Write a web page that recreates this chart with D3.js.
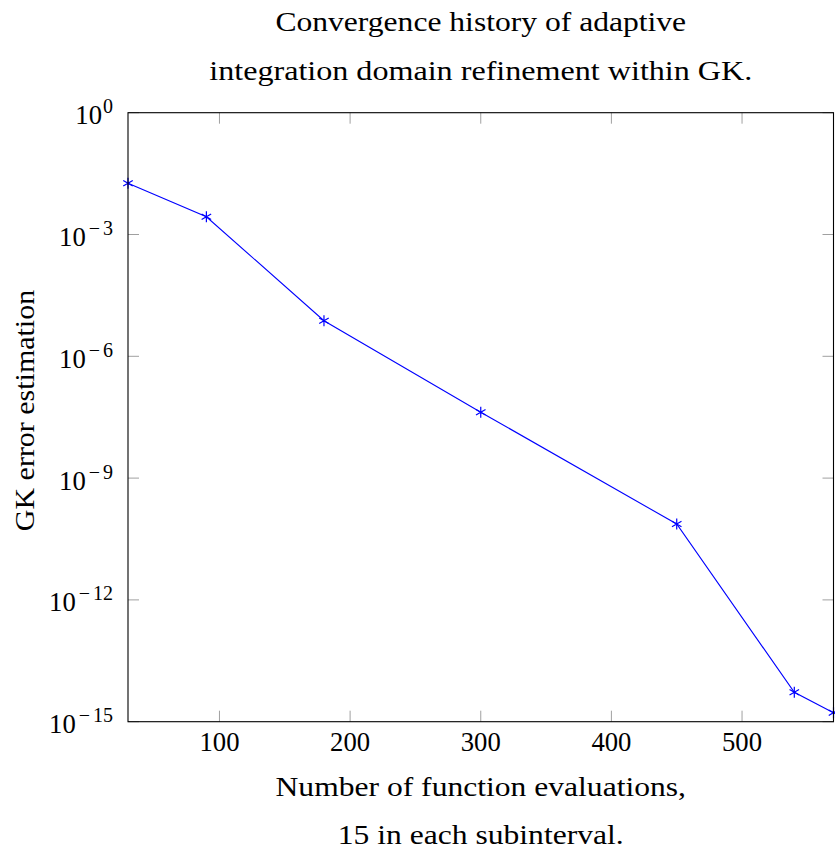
<!DOCTYPE html>
<html>
<head>
<meta charset="utf-8">
<script src="https://cdn.jsdelivr.net/npm/d3@7/dist/d3.min.js"></script>
<style>
  html, body { margin: 0; padding: 0; background: #fff; }
  svg text { font-family: "Liberation Serif", "DejaVu Serif", serif; fill: #000; }
</style>
</head>
<body>
<svg id="chart" width="835" height="854"></svg>
<script>
// Function evaluations (15 per subinterval) and the GK error estimate after each refinement
const evaluations = [30, 90, 180, 300, 450, 540, 570];
const errorEstimate = [1.82e-2, 2.74e-3, 7.5e-6, 4.2e-8, 7.4e-11, 5.3e-15, 1.67e-15];

const xTicks = [100, 200, 300, 400, 500];
const yTickExponents = [0, -3, -6, -9, -12, -15];

const titleLines = ["Convergence history of adaptive", "integration domain refinement within GK."];
const xLabelLines = ["Number of function evaluations,", "15 in each subinterval."];
const yLabel = "GK error estimation";

const svg = d3.select("#chart");
const plotLeft = 128, plotRight = 833.5, plotTop = 112.7, plotBottom = 721.7;
const fontSize = 27;
// Serif text set a little wider than the installed face, like Computer Modern
const widen = 1.17;

const x = d3.scaleLinear().domain([30, 570]).range([plotLeft, plotRight]);
const y = d3.scaleLog().domain([1e-15, 1]).range([plotBottom, plotTop]);

const tickLen = 11;
const tickColor = "#a0a0a0";

// Inner ticks on all four sides
const g = svg.append("g");
xTicks.forEach(t => {
  g.append("line").attr("x1", x(t)).attr("x2", x(t))
    .attr("y1", plotBottom).attr("y2", plotBottom - tickLen)
    .attr("stroke", tickColor).attr("stroke-width", 1);
  g.append("line").attr("x1", x(t)).attr("x2", x(t))
    .attr("y1", plotTop).attr("y2", plotTop + tickLen)
    .attr("stroke", tickColor).attr("stroke-width", 1);
});
yTickExponents.forEach(e => {
  const yy = y(Math.pow(10, e));
  g.append("line").attr("x1", plotLeft).attr("x2", plotLeft + tickLen)
    .attr("y1", yy).attr("y2", yy)
    .attr("stroke", tickColor).attr("stroke-width", 1);
  g.append("line").attr("x1", plotRight).attr("x2", plotRight - tickLen)
    .attr("y1", yy).attr("y2", yy)
    .attr("stroke", tickColor).attr("stroke-width", 1);
});

// Data line and star markers
const line = d3.line().x((d, i) => x(evaluations[i])).y(d => y(d));
svg.append("path").datum(errorEstimate)
  .attr("d", line).attr("fill", "none")
  .attr("stroke", "#0000ff").attr("stroke-width", 1.1);

const star = (cx, cy, r) => {
  let p = "";
  for (let k = 0; k < 3; k++) {
    const a = Math.PI / 2 + k * Math.PI / 3;
    const dx = r * Math.cos(a), dy = r * Math.sin(a);
    p += `M${cx - dx},${cy - dy}L${cx + dx},${cy + dy}`;
  }
  return p;
};
svg.append("g").selectAll("path").data(errorEstimate).join("path")
  .attr("d", (d, i) => star(x(evaluations[i]), y(d), 5.5))
  .attr("stroke", "#0000ff").attr("stroke-width", 1.2).attr("fill", "none");

// Frame
svg.append("rect").attr("x", plotLeft).attr("y", plotTop)
  .attr("width", plotRight - plotLeft).attr("height", plotBottom - plotTop)
  .attr("fill", "none").attr("stroke", "#000").attr("stroke-width", 1.1);

// Helper: centred text widened horizontally around its anchor point
function wideText(parent, str, cx, baseline, rotate, k) {
  return parent.append("text")
    .attr("transform", `translate(${cx},${baseline})${rotate ? " rotate(-90)" : ""} scale(${k || widen},1)`)
    .attr("text-anchor", "middle").attr("font-size", fontSize)
    .text(str);
}

// Tick labels
svg.append("g").selectAll("text").data(xTicks).join("text")
  .attr("x", d => x(d)).attr("y", plotBottom + 29)
  .attr("text-anchor", "middle").attr("font-size", 26.7)
  .text(d => d);

const yl = svg.append("g").selectAll("text").data(yTickExponents).join("text")
  .attr("x", 113).attr("y", d => y(Math.pow(10, d)) + 11.5)
  .attr("text-anchor", "end").attr("font-size", 26.7);
yl.append("tspan").text("10");
yl.filter(d => d < 0).append("tspan").attr("dx", 3).attr("dy", -11).attr("font-size", 20)
  .text("\u2212");
yl.append("tspan")
  .attr("dx", d => d < 0 ? 3 : 1)
  .attr("dy", d => d < 0 ? 0 : -11)
  .attr("font-size", 20)
  .text(d => Math.abs(d));

// Title
const midX = (plotLeft + plotRight) / 2;
const tg = svg.append("g");
titleLines.forEach((s, i) => wideText(tg, s, midX, 30.5 + i * 49, false, i === 1 ? 1.19 : widen));

// Axis labels
const xg = svg.append("g");
xLabelLines.forEach((s, i) => wideText(xg, s, midX, 796 + i * 47.5, false));

wideText(svg, yLabel, 33.5, 410.5, true, 1.11);
</script>
</body>
</html>
